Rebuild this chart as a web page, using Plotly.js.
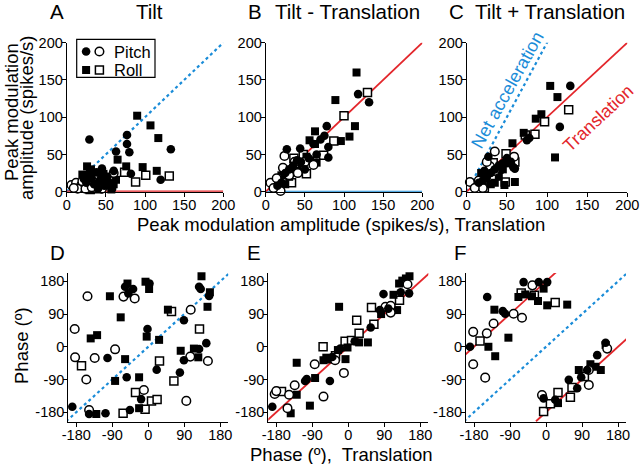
<!DOCTYPE html>
<html><head><meta charset="utf-8">
<script src="https://cdn.plot.ly/plotly-3.0.1.min.js"></script>
<style>html,body{margin:0;padding:0;background:#fff}#chart{width:640px;height:464px}</style>
</head><body><div id="chart"></div>
<script>
// ---------- tick labels ----------
const ampTicks = [0, 50, 100, 150, 200];
const phaseTicks = [-180, -90, 0, 90, 180];

// ---------- Panel A: Tilt (amplitude) [translation, tilt] ----------
const aPitchFilled = [[29,70],[77,76],[77,64],[80,53],[63,54],[133,57],[82,24],[120,16],[45,31],[27,22],[32,18],[38,26],[25,12],[35,10],[42,15],[48,8],[52,20],[55,12],[58,4],[40,4],[30,28],[22,17],[60,28],[44,22]];
const aPitchOpen   = [[6,9],[12,12],[18,8],[60,25],[28,14],[38,20],[14,4],[24,4],[32,6],[45,4],[9,5],[20,14]];
const aRollFilled  = [[90,102],[107,89],[117,72],[65,43],[76,34],[97,33],[115,28],[26,34],[20,23],[63,16],[53,8],[57,3],[31,30],[47,24],[36,22],[50,14],[41,11],[60,10],[27,16]];
const aRollOpen    = [[74,26],[88,13],[101,22],[131,21],[22,5],[30,3],[17,10],[35,6],[44,13],[56,18],[13,8],[40,4]];

// ---------- Panel B: Tilt - Translation ----------
const bPitchFilled = [[118,131],[132,120],[78,88],[75,75],[80,60],[80,46],[44,58],[27,57],[61,64],[35,35],[45,40],[55,45],[25,25],[30,30],[50,30],[20,12],[15,8],[40,42],[65,50],[70,70]];
const bPitchOpen   = [[24,48],[22,32],[6,12],[19,1],[41,25],[61,36],[14,18],[30,22],[37,40],[10,5],[50,40]];
const bRollFilled  = [[116,160],[89,123],[114,88],[107,74],[96,68],[63,81],[56,69],[63,64],[52,47],[46,38],[65,39],[30,20],[14,16],[20,22],[35,30],[40,28],[25,10],[57,42],[12,5]];
const bRollOpen    = [[130,133],[100,102],[87,68],[74,49],[52,24],[33,12],[36,45],[22,18],[18,10],[48,50]];

// ---------- Panel C: Tilt + Translation ----------
const cPitchFilled = [[129,142],[116,87],[75,69],[78,72],[60,31],[27,47],[55,40],[50,45],[45,38],[35,30],[30,25],[25,20],[20,15],[40,35],[58,33],[15,12],[22,28]];
const cPitchOpen   = [[35,54],[4,13],[59,47],[29,34],[20,5],[10,5],[35,28],[15,15],[25,40]];
const cRollFilled  = [[104,142],[113,127],[93,104],[86,98],[71,79],[110,46],[57,65],[60,13],[47,9],[35,12],[25,18],[30,10],[40,20],[20,8],[52,38],[45,30],[18,25],[28,32]];
const cRollOpen    = [[127,110],[97,94],[85,77],[73,76],[49,51],[48,13],[33,39],[32,20],[15,8],[22,5],[60,40],[40,30]];

// ---------- Panel D: Tilt (phase) ----------
const dPitchFilled = [[-190,-165],[-148,-185],[-107,-183],[-102,-31],[-54,-84],[-58,165],[-50,147],[-38,159],[-46,-174],[-18,-144],[-2,49],[3,174],[21,-63],[79,-71],[89,-37],[89,73],[127,165],[131,159],[152,140],[145,10],[127,-6]];
const dPitchOpen   = [[-152,139],[-184,49],[-183,-29],[-155,-90],[-134,-31],[-83,-7],[-62,138],[-34,133],[-11,-119],[95,-149],[106,102],[105,-27],[149,-39],[-148,-174]];
const dRollFilled  = [[-130,-185],[-96,139],[-69,81],[-144,23],[-128,32],[-58,-34],[-83,-94],[-23,-84],[-23,-169],[-52,174],[-7,179],[2,159],[-4,28],[27,19],[49,102],[81,-11],[114,-5],[125,-29],[133,194],[154,150],[148,110]];
const dRollOpen    = [[-167,-52],[-63,-183],[-32,-126],[-8,-172],[8,-149],[22,-145],[28,-39],[64,-94],[58,97],[128,49]];

// ---------- Panel E: Tilt - Translation (phase) ----------
const ePitchFilled = [[-190,-165],[-104,-89],[-108,-94],[-46,-94],[56,53],[88,145],[79,101],[131,150],[152,147],[16,15],[-40,-28],[-20,-5],[100,105]];
const ePitchOpen   = [[-184,-130],[-180,-122],[-148,-132],[-134,-106],[-152,-169],[-84,-48],[-62,-137],[-11,-72],[-33,-37],[93,110],[106,113],[106,94],[148,172]];
const eRollFilled  = [[-144,-183],[-96,-162],[-129,-44],[-83,-86],[-23,110],[-7,-34],[49,12],[-62,-37],[-55,-30],[-45,-35],[-26,-9],[-2,-2],[27,12],[122,101],[113,143],[127,174],[135,182],[144,188],[153,194],[-129,-132],[82,90]];
const eRollOpen    = [[-167,-123],[-63,0],[-32,-25],[-8,15],[8,17],[21,73],[27,37],[58,108],[64,62],[128,128]];

// ---------- Panel F: Tilt + Translation (phase) ----------
const fPitchFilled = [[-190,0],[-147,137],[-108,98],[-102,91],[-56,178],[-18,178],[3,178],[57,-91],[78,-114],[88,-84],[-6,-142],[23,-146],[128,-23],[149,11],[103,-64]];
const fPitchOpen   = [[-182,41],[-182,-48],[-152,-85],[-148,37],[-131,64],[-81,91],[-60,80],[-34,169],[-10,-133],[107,-105],[107,-64],[153,-5]];
const fRollFilled  = [[-144,0],[-127,-26],[-129,102],[-94,25],[-69,137],[-52,144],[-35,139],[-20,126],[-6,160],[3,114],[53,116],[30,-155],[82,-64],[111,-48],[124,-55],[137,-64],[149,5]];
const fRollOpen    = [[-165,16],[-62,148],[-29,142],[23,122],[-6,-178],[11,-157],[30,-126],[61,-139],[65,-112],[96,-82]];

// ---------- reference lines (x endpoints, y endpoints) ----------
const unityAmpX = [0, 205], unityAmpY = [0, 205];
const zeroAmpX = [0, 200], zeroAmpY = [0, 0];
const netAccX = [0, 102], netAccY = [0, 204];
const unityPhaseX = [-205, 212], unityPhaseY = [-205, 212];
const upperWrapX = [-205, 30], upperWrapY = [-25, 210];
const lowerWrapX = [-25, 215], lowerWrapY = [-205, 35];

// ---------- legend keys (x, y within legend box) ----------
const legendKeyX = [0.12, 0.29];
const legendKeyY = [0.68, 0.19];

// ---------- layout helpers ----------
const W = 640, H = 464;
const FONT = 'Liberation Sans, Arial, sans-serif';
const RED = '#e3262b', BLUE = '#1a8cd8';
const CIRCLE_SIZE = 8.6, SQUARE_SIZE = 8;
const panels = [
  {x:[66.7,223.3], y:[42.7,191.7]},
  {x:[265.7,422.3], y:[42.7,191.7]},
  {x:[466.7,627.3], y:[42.7,191.7]},
  {x:[68.3,228.3], y:[273,422]},
  {x:[268.3,428.3], y:[273,422]},
  {x:[466,626], y:[273,422]}
];
function dx(p){return [p[0]/W, p[1]/W];}
function dy(p){return [1-p[1]/H, 1-p[0]/H];}

const data = [];
function ids(i){return i===0 ? ['x','y'] : ['x'+(i+1),'y'+(i+1)];}
function markerStyle(symbol, open){
  return {symbol:symbol, size: symbol==='square'?SQUARE_SIZE:CIRCLE_SIZE, color: open?'#fff':'#000',
    line:{color:'#000', width: open?1.5:0}};
}
function addPts(i, pts, symbol, open){
  const [xa, ya] = ids(i);
  data.push({type:'scatter', mode:'markers', xaxis:xa, yaxis:ya, cliponaxis:false,
    x: pts.map(p=>p[0]), y: pts.map(p=>p[1]), showlegend:false, hoverinfo:'skip',
    marker:markerStyle(symbol, open)});
}
function addLine(i, xs, ys, color, dash, width){
  const [xa, ya] = ids(i);
  data.push({type:'scatter', mode:'lines', xaxis:xa, yaxis:ya, x:xs, y:ys, showlegend:false,
    hoverinfo:'skip', line:{color:color, dash:dash, width:width}});
}

addLine(0, unityAmpX, unityAmpY, BLUE, 'dot', 2.2);
addLine(0, zeroAmpX, zeroAmpY, RED, 'solid', 2.2);
addLine(1, zeroAmpX, zeroAmpY, BLUE, 'solid', 2);
addLine(1, unityAmpX, unityAmpY, RED, 'solid', 1.8);
addLine(2, netAccX, netAccY, BLUE, 'dot', 2.2);
addLine(2, unityAmpX, unityAmpY, RED, 'solid', 1.8);
addLine(3, unityPhaseX, unityPhaseY, BLUE, 'dot', 2.2);
addLine(4, unityPhaseX, unityPhaseY, RED, 'solid', 1.8);
addLine(5, unityPhaseX, unityPhaseY, BLUE, 'dot', 2.2);
addLine(5, upperWrapX, upperWrapY, RED, 'solid', 1.8);
addLine(5, lowerWrapX, lowerWrapY, RED, 'solid', 1.8);

const sets = [
  [aPitchFilled,aPitchOpen,aRollFilled,aRollOpen],
  [bPitchFilled,bPitchOpen,bRollFilled,bRollOpen],
  [cPitchFilled,cPitchOpen,cRollFilled,cRollOpen],
  [dPitchFilled,dPitchOpen,dRollFilled,dRollOpen],
  [ePitchFilled,ePitchOpen,eRollFilled,eRollOpen],
  [fPitchFilled,fPitchOpen,fRollFilled,fRollOpen]
];
sets.forEach((s,i)=>{
  addPts(i, s[3], 'square', true);
  addPts(i, s[2], 'square', false);
  addPts(i, s[1], 'circle', true);
  addPts(i, s[0], 'circle', false);
});

const legendBox = {x:[76.7,155], y:[39.3,77.3]};
[[0,0,'circle',false],[1,0,'circle',true],[0,1,'square',false],[1,1,'square',true]].forEach(k=>{
  data.push({type:'scatter', mode:'markers', xaxis:'x7', yaxis:'y7', x:[legendKeyX[k[0]]], y:[legendKeyY[k[1]]],
    showlegend:false, hoverinfo:'skip', marker:markerStyle(k[2], k[3])});
});

const layout = {
  width: W, height: H, margin:{l:0,r:0,t:0,b:0}, paper_bgcolor:'#fff', plot_bgcolor:'rgba(0,0,0,0)',
  showlegend:false, font:{family:FONT, color:'#000', size:14},
  shapes: [{type:'rect', xref:'paper', yref:'paper', x0:legendBox.x[0]/W, x1:legendBox.x[1]/W,
    y0:1-legendBox.y[1]/H, y1:1-legendBox.y[0]/H, line:{color:'#000', width:1.2}, fillcolor:'rgba(0,0,0,0)'}],
  annotations: []
};
panels.forEach((p,i)=>{
  const amp = i<3;
  const range = amp ? [0,200] : [-200,200];
  const yrange = amp ? [0,200] : [-207,203];
  const ticks = amp ? ampTicks : phaseTicks;
  const n = i===0 ? '' : (i+1);
  const common = {showline:true, linecolor:'#000', linewidth:1, ticks:'outside', ticklen:4, tickwidth:1,
    tickcolor:'#000', showgrid:false, zeroline:false, tickvals:ticks, ticktext:ticks.map(String),
    tickfont:{family:FONT, size:14.5, color:'#000'}, fixedrange:true, ticklabelstandoff:-4};
  layout['xaxis'+n] = Object.assign({}, common, {domain:dx(p.x), range:range, anchor:'y'+n});
  layout['yaxis'+n] = Object.assign({}, common, {domain:dy(p.y), range:yrange, anchor:'x'+n});
});
layout.xaxis7 = {domain:dx(legendBox.x), range:[0,1], visible:false, anchor:'y7', fixedrange:true};
layout.yaxis7 = {domain:dy(legendBox.y), range:[0,1], visible:false, anchor:'x7', fixedrange:true};

function ann(text, x, y, size, opts){
  layout.annotations.push(Object.assign({text:text, x:x/W, y:1-y/H, xref:'paper', yref:'paper',
    showarrow:false, xanchor:'center', yanchor:'middle', font:{family:FONT, size:size, color:'#000'}}, opts||{}));
}
ann('A', 57, 12, 20.5); ann('Tilt', 149, 12, 20.5);
ann('B', 254.5, 12, 20.5); ann('Tilt - Translation', 272.7, 12, 20.5, {xanchor:'left'});
ann('C', 456, 12, 20.5); ann('Tilt + Translation', 473.3, 12, 20.5, {xanchor:'left'});
ann('D', 57, 253, 20.5); ann('E', 254, 253, 20.5); ann('F', 460.5, 253, 20.5);
ann('Peak modulation', 11, 112, 18.5, {textangle:-90});
ann('amplitude (spikes/s)', 27, 118, 18.5, {textangle:-90});
ann('Peak modulation amplitude (spikes/s), Translation', 341, 224, 18.5);
ann('Phase (º)', 21, 346, 18.5, {textangle:-90});
ann('Phase (º),  Translation', 341.5, 454, 18.5);
ann('Pitch', 111.7, 51.7, 16.5, {xanchor:'left'});
ann('Roll', 111.7, 70, 16.5, {xanchor:'left'});
layout.annotations.push({text:'Net acceleration', x:51, y:136, xref:'x3', yref:'y3', showarrow:false,
  textangle:-61, font:{family:FONT, size:18, color:BLUE}, xanchor:'center', yanchor:'middle'});
layout.annotations.push({text:'Translation', x:164, y:99, xref:'x3', yref:'y3', showarrow:false,
  textangle:-43, font:{family:FONT, size:18, color:RED}, xanchor:'center', yanchor:'middle'});

Plotly.newPlot('chart', data, layout, {staticPlot:true, displayModeBar:false});
</script></body></html>
